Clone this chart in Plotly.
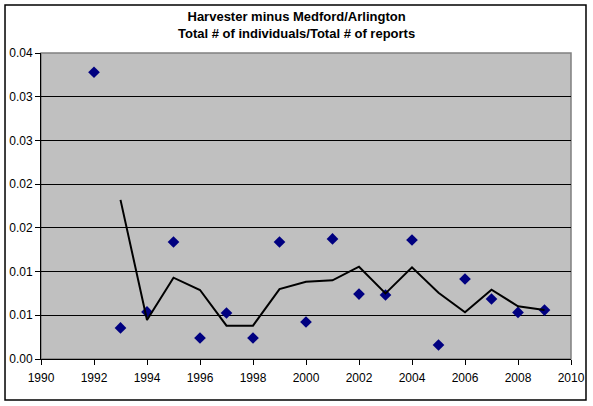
import plotly.graph_objects as go

# yearly ratio: total # of individuals / total # of reports
years = list(range(1992, 2010))
ratio = [0.0328, 0.00355, 0.00538, 0.01338, 0.0024, 0.00526, 0.0024, 0.01338, 0.00423,
         0.01373, 0.00743, 0.00732, 0.01361, 0.0016, 0.00915, 0.00686, 0.00533, 0.0056]

# 2 period moving average trendline
trend_years = list(range(1993, 2010))
trend = [0.0182, 0.00446, 0.0093, 0.00789, 0.00381, 0.00381, 0.0080, 0.00884, 0.0090,
         0.01056, 0.00751, 0.01049, 0.00758, 0.00534, 0.00793, 0.00603, 0.0056]

ytick_vals = [0, 0.005, 0.01, 0.015, 0.02, 0.025, 0.03, 0.035]
ytick_text = ["0.00", "0.01", "0.01", "0.02", "0.02", "0.03", "0.03", "0.04"]

title_text = "<b>Harvester minus Medford/Arlington<br>Total # of individuals/Total # of reports</b>"

fnt = "Liberation Sans, Arial, sans-serif"

fig = go.Figure()
fig.add_trace(go.Scatter(x=years, y=ratio, mode="markers",
                         marker=dict(symbol="diamond", size=9, color="#000080"),
                         showlegend=False))
fig.add_trace(go.Scatter(x=trend_years, y=trend, mode="lines",
                         line=dict(color="black", width=2), showlegend=False))

fig.update_layout(
    width=593, height=406,
    margin=dict(l=41, r=22, t=53, b=47),
    paper_bgcolor="white", plot_bgcolor="#C0C0C0",
    font=dict(family=fnt, size=12, color="black"),
    annotations=[dict(text=title_text, xref="paper", yref="paper", x=0.483, y=1.093,
                      xanchor="center", yanchor="middle", showarrow=False,
                      font=dict(family=fnt, size=13, color="black"))],
    shapes=[
        # outer chart border
        dict(type="rect", xref="paper", yref="paper", x0=-0.0679, x1=1.0283, y0=-0.134, y1=1.157,
             line=dict(color="black", width=1.5), layer="below"),
        # grey plot area border
        dict(type="rect", xref="paper", yref="paper", x0=0, x1=1, y0=0, y1=1,
             line=dict(color="#808080", width=1.5), layer="between"),
    ],
)
fig.update_xaxes(range=[1990, 2010], dtick=2, tick0=1990, showgrid=False, zeroline=False,
                 showline=True, linecolor="black", linewidth=1, automargin=False,
                 ticks="outside", ticklen=5, tickcolor="black", ticklabelstandoff=3)
fig.update_yaxes(range=[0, 0.035], tickvals=ytick_vals, ticktext=ytick_text,
                 showgrid=True, gridcolor="black", gridwidth=1, zeroline=False,
                 showline=True, linecolor="black", linewidth=1, automargin=False,
                 ticks="outside", ticklen=5, tickcolor="black")

# drop the browser's default 8px body margin so the figure sits at the corner
fig.write_html("out.html", config={"displayModeBar": False},
               post_script="document.body.style.margin='0';")
